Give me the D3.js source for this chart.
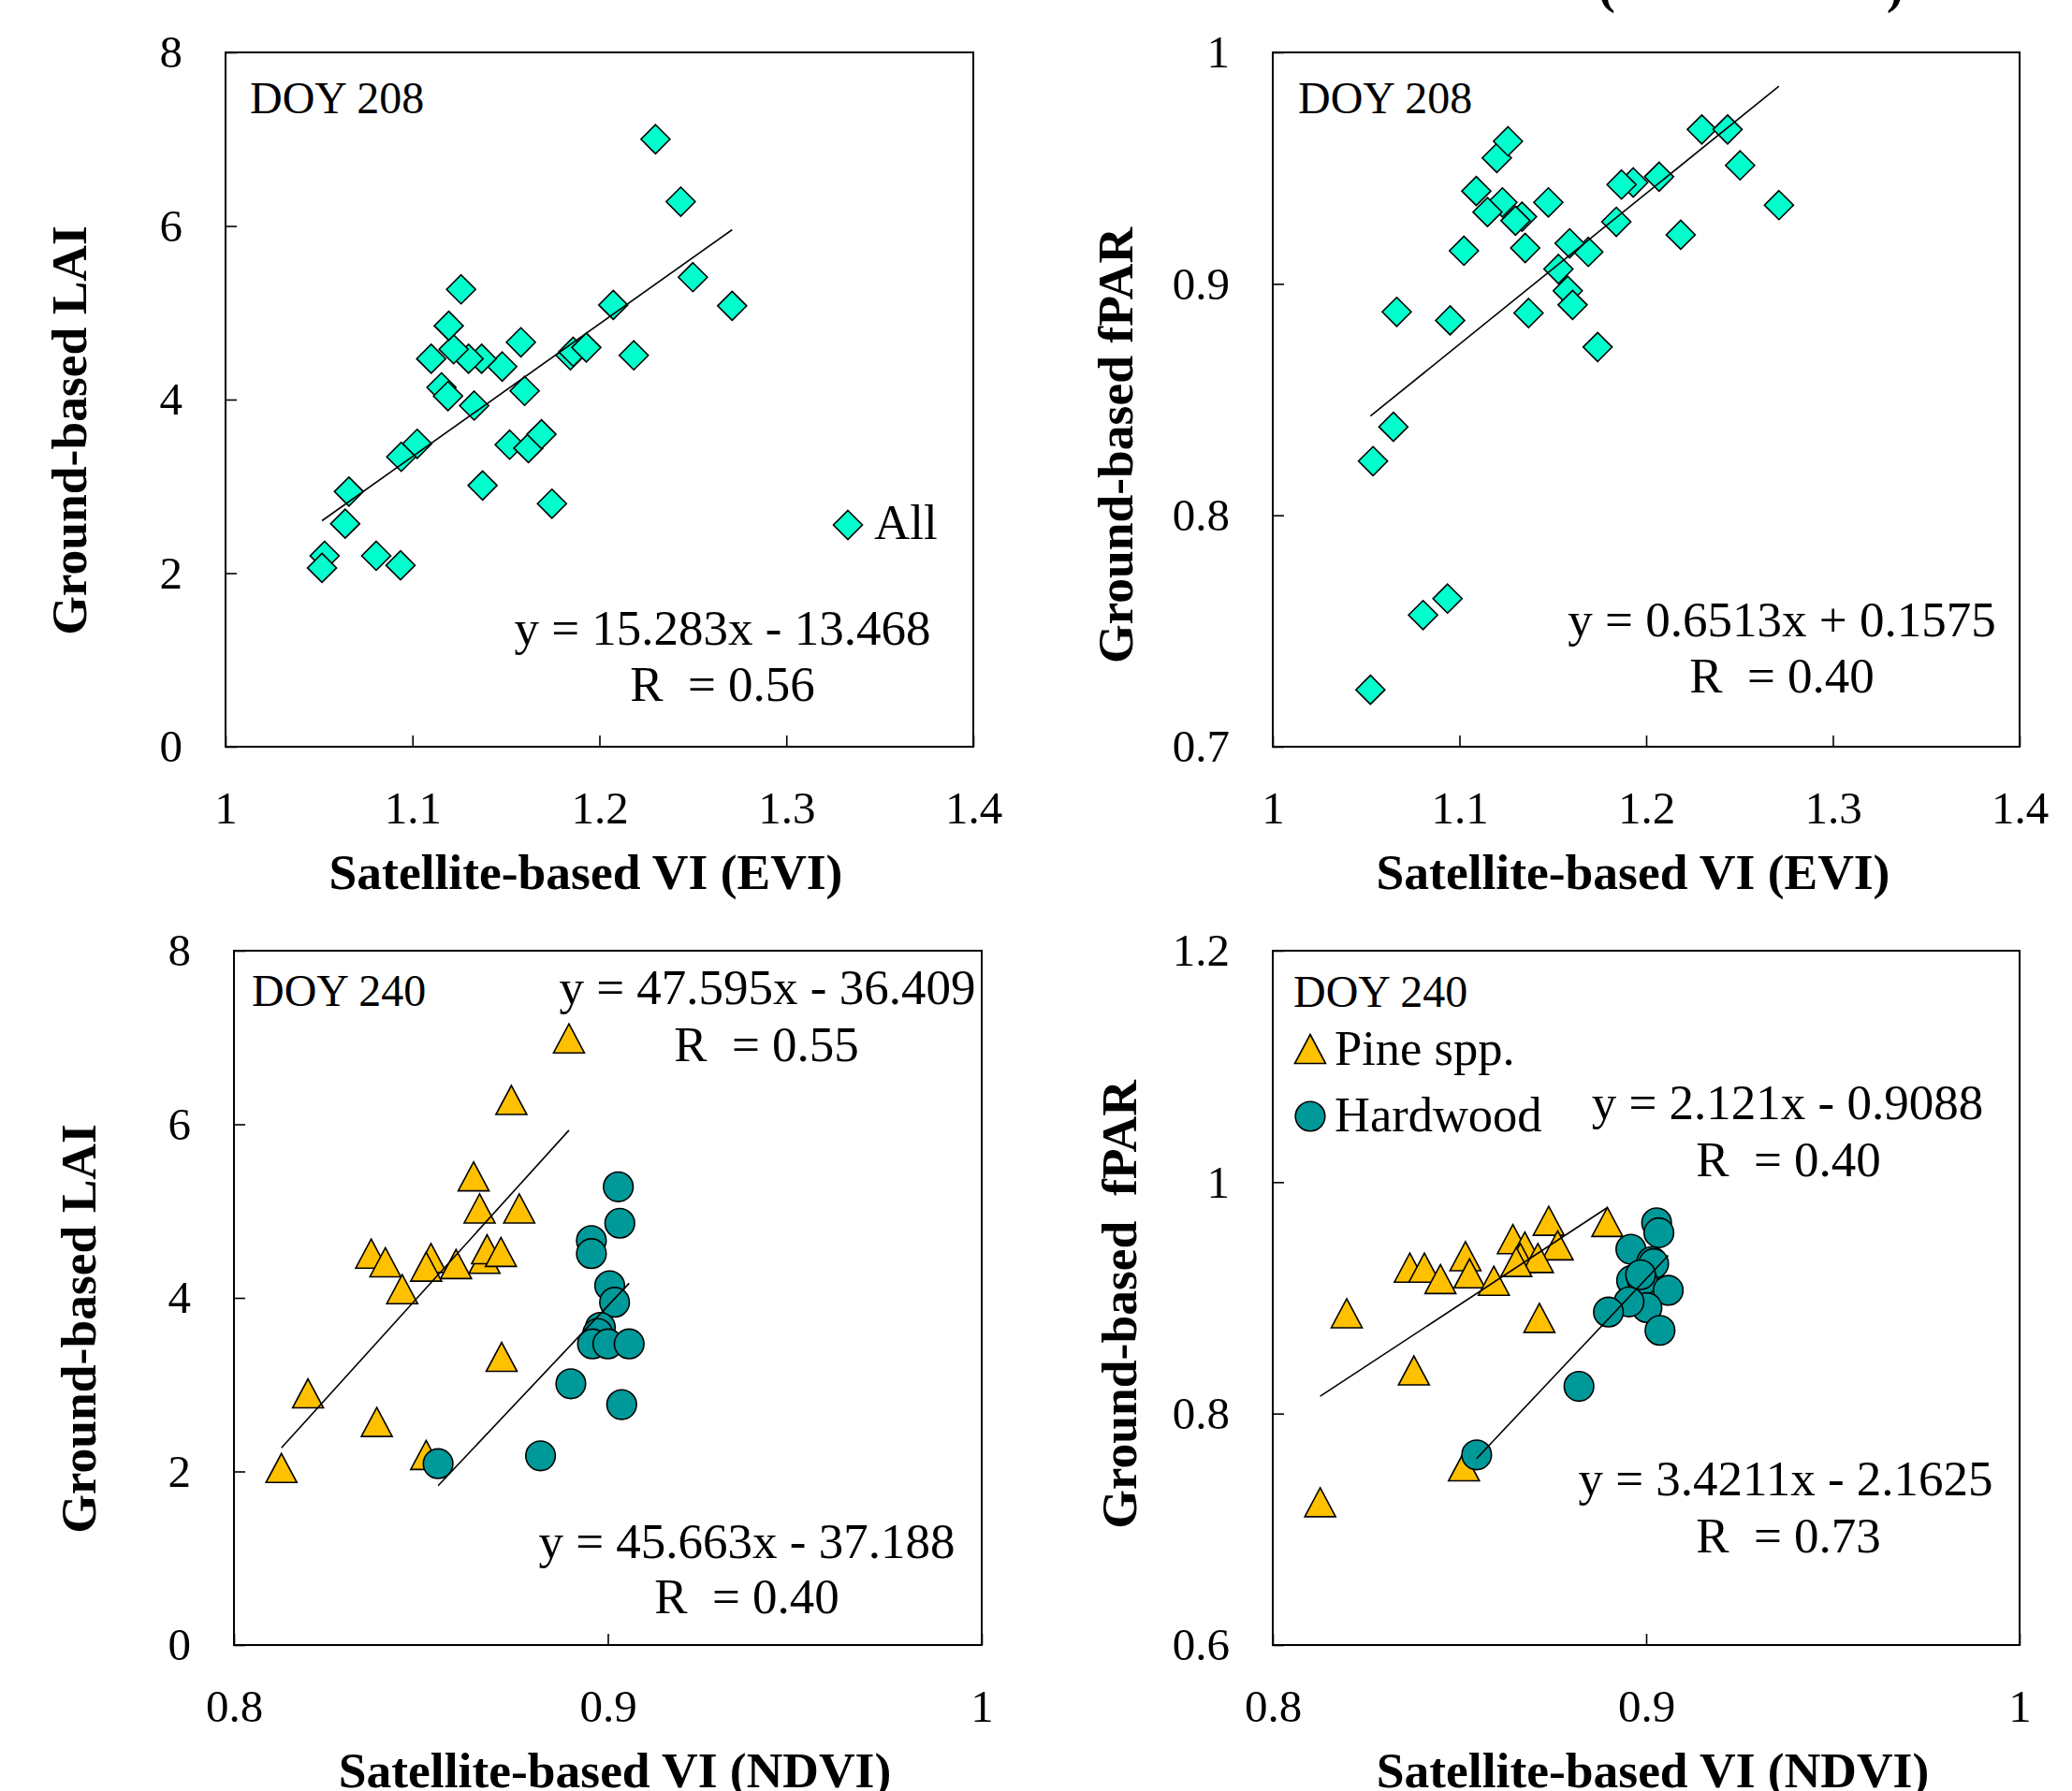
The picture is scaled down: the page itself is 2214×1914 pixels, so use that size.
<!DOCTYPE html>
<html>
<head>
<meta charset="utf-8">
<script src="https://cdn.jsdelivr.net/npm/d3@7"></script>
<style>
  body { margin: 0; background: #fff; }
  text { font-family: "Liberation Serif", "Times New Roman", serif; fill: #000; }
</style>
</head>
<body>
<div id="chart"></div>
<script>
// ---- data ----
// DOY 208, EVI vs LAI (all sites)
const eviLaiX = [1.230, 1.2435, 1.250, 1.271, 1.2074, 1.2184, 1.1845, 1.186, 1.193, 1.158, 1.160, 1.148,
    1.137, 1.130, 1.122, 1.1194, 1.126, 1.110, 1.1155, 1.119, 1.133, 1.152, 1.162, 1.169, 1.1375, 1.1746,
    1.1025, 1.094, 1.066, 1.064, 1.053, 1.0516, 1.0806, 1.0936];
const eviLaiY = [7.00, 6.28, 5.41, 5.08, 5.09, 4.51, 4.51, 4.55, 4.60, 4.66, 4.10, 4.38,
    4.47, 4.47, 4.58, 4.85, 5.27, 4.47, 4.14, 4.04, 3.93, 3.48, 3.44, 3.60, 3.01, 2.80,
    3.49, 3.34, 2.94, 2.57, 2.20, 2.06, 2.20, 2.09];

// DOY 208, EVI vs fPAR (all sites)
const eviFparX = [1.2298, 1.2436, 1.2503, 1.2711, 1.2069, 1.1931, 1.1868, 1.184, 1.2185, 1.174, 1.169,
    1.159, 1.153, 1.158, 1.1606, 1.1476, 1.1352, 1.137, 1.1335, 1.130, 1.123, 1.115, 1.109, 1.120, 1.126,
    1.1024, 1.095, 1.0664, 1.0646, 1.0537, 1.0936, 1.0805, 1.0523];
const eviFparY = [0.9667, 0.9667, 0.9512, 0.934, 0.9463, 0.9438, 0.9429, 0.9268, 0.9212, 0.8727, 0.9138,
    0.9175, 0.9064, 0.897, 0.8909, 0.9352, 0.9155, 0.8874, 0.929, 0.9273, 0.9352, 0.931, 0.9401, 0.9544, 0.9616,
    0.9143, 0.8842, 0.8879, 0.8382, 0.8234, 0.764, 0.7569, 0.7246];

// DOY 240, NDVI vs LAI
const pineLaiX = [0.8896, 0.8742, 0.8641, 0.8657, 0.8763, 0.8367, 0.8405, 0.8527, 0.8514, 0.8594, 0.867,
    0.8677, 0.8714, 0.845, 0.8716, 0.8198, 0.8382, 0.8514, 0.8127];
const pineLaiY = [6.99, 6.28, 5.40, 5.03, 5.03, 4.51, 4.41, 4.46, 4.36, 4.39, 4.45,
    4.56, 4.53, 4.10, 3.32, 2.90, 2.57, 2.19, 2.04];
const hardLaiX = [0.9028, 0.9032, 0.8956, 0.8956, 0.9005, 0.9018, 0.898, 0.8973, 0.8959, 0.9, 0.9057,
    0.8901, 0.9037, 0.882, 0.8546];
const hardLaiY = [5.28, 4.86, 4.66, 4.51, 4.14, 3.95, 3.66, 3.59, 3.47, 3.47, 3.47,
    3.01, 2.77, 2.18, 2.09];

// DOY 240, NDVI vs fPAR
const pineFparX = [0.8896, 0.8739, 0.8643, 0.8675, 0.8763, 0.8516, 0.8367, 0.8406, 0.8449, 0.8527, 0.8592,
    0.8663, 0.871, 0.8652, 0.8198, 0.8714, 0.8378, 0.8512, 0.8127];
const pineFparY = [0.9656, 0.9666, 0.9508, 0.9444, 0.9454, 0.936, 0.9261, 0.9261, 0.9163, 0.9212, 0.9148,
    0.9345, 0.9345, 0.931, 0.8867, 0.8827, 0.8373, 0.7544, 0.7234];
const hardFparX = [0.9028, 0.9034, 0.8959, 0.9015, 0.902, 0.8961, 0.899, 0.9059, 0.9002, 0.8954, 0.8899,
    0.9037, 0.882, 0.8546, 0.8985];
const hardFparY = [0.9649, 0.9563, 0.942, 0.9313, 0.9296, 0.915, 0.9148, 0.9065, 0.8916, 0.8965, 0.8877,
    0.8719, 0.8235, 0.7643, 0.9200];

// regression fits printed on the figure [slope, intercept]
const fitEviLai = [15.283, -13.468];
const fitEviFpar = [0.6513, 0.1575];
const fitPineLai = [47.595, -36.409];
const fitHardLai = [45.663, -37.188];
const fitPineFpar = [2.121, -0.9088];
const fitHardFpar = [3.4211, -2.1625];

// tick values
const eviTicks = [1, 1.1, 1.2, 1.3, 1.4];
const ndviTicks = [0.8, 0.9, 1];
const laiTicks = [0, 2, 4, 6, 8];
const fpar208Ticks = [0.7, 0.8, 0.9, 1];
const fpar240Ticks = [0.6, 0.8, 1, 1.2];

const COL_ALL = '#00ffcc';
const COL_PINE = '#ffc000';
const COL_HARD = '#009999';

const width = 2214;
const height = 1914;

const svg = d3.select('#chart')
    .append('svg')
    .attr('width', width)
    .attr('height', height)
    .style('display', 'block');

svg.append('rect')
    .attr('width', width)
    .attr('height', height)
    .attr('fill', '#fff');

// marker shapes
const diamond = r => `M0,${-r}L${r},0L0,${r}L${-r},0Z`;
const triangle = (w, h) => `M0,${-h / 2}L${w / 2},${h / 2}L${-w / 2},${h / 2}Z`;

function marker(g, type, color, px, py) {
    if (type === 'circle') {
        return g.append('circle')
            .attr('cx', px).attr('cy', py).attr('r', 15.8)
            .attr('fill', color).attr('stroke', '#000').attr('stroke-width', 1.6);
    }
    return g.append('path')
        .attr('d', type === 'diamond' ? diamond(15.5) : triangle(33, 31))
        .attr('transform', `translate(${px},${py})`)
        .attr('fill', color).attr('stroke', '#000').attr('stroke-width', 1.6);
}

function drawPanel(p) {
    const g = svg.append('g').attr('transform', `translate(${p.left},${p.top})`);
    const w = p.w, h = p.h;

    const x = d3.scaleLinear().domain(p.xDomain).range([0, w]);
    const y = d3.scaleLinear().domain(p.yDomain).range([h, 0]);

    // X axis (ticks point inward)
    g.append('g')
        .attr('transform', `translate(0,${h})`)
        .call(d3.axisBottom(x).tickValues(p.xTicks).tickFormat(d => d)
            .tickSizeInner(-12).tickSizeOuter(0).tickPadding(47))
        .call(a => a.select('.domain').remove())
        .attr('font-size', 49)
        .attr('font-family', null)
        .call(a => a.selectAll('line').attr('stroke', '#000').attr('stroke-width', 1.6));

    // Y axis
    g.append('g')
        .call(d3.axisLeft(y).tickValues(p.yTicks).tickFormat(d => d)
            .tickSizeInner(-12).tickSizeOuter(0).tickPadding(46))
        .call(a => a.select('.domain').remove())
        .attr('font-size', 49)
        .attr('font-family', null)
        .call(a => a.selectAll('line').attr('stroke', '#000').attr('stroke-width', 1.6));

    // plot frame
    g.append('rect')
        .attr('width', w)
        .attr('height', h)
        .attr('fill', 'none')
        .attr('stroke', '#000')
        .attr('stroke-width', 2);

    // points
    p.series.forEach(s => {
        s.xs.forEach((v, i) => marker(g, s.type, s.color, x(v), y(s.ys[i])));
    });

    // trend lines over the range of each series
    const line = d3.line().x(d => x(d[0])).y(d => y(d[1]));
    p.series.forEach(s => {
        const ext = d3.extent(s.xs);
        const pts = ext.map(v => [v, s.fit[0] * v + s.fit[1]]);
        g.append('path')
            .datum(pts)
            .attr('d', line)
            .attr('fill', 'none')
            .attr('stroke', '#000')
            .attr('stroke-width', 1.6);
    });

    // panel texts (absolute page coords)
    p.texts.forEach(t => {
        svg.append('text')
            .attr('x', t.x)
            .attr('y', t.y)
            .attr('font-size', t.size || 53)
            .attr('text-anchor', t.anchor || 'start')
            .style('white-space', 'pre')
            .text(t.text);
    });

    // legend markers
    (p.legend || []).forEach(l => marker(svg, l.type, l.color, l.x, l.y));

    // axis titles
    svg.append('text')
        .attr('x', p.xTitle[1])
        .attr('y', p.top + h + 152)
        .attr('font-size', 53.5)
        .attr('font-weight', 'bold')
        .attr('text-anchor', 'middle')
        .style('white-space', 'pre')
        .text(p.xTitle[0]);

    svg.append('text')
        .attr('transform', `translate(${p.yTitle[1]},${p.yTitle[2]}) rotate(-90)`)
        .attr('font-size', 53.5)
        .attr('font-weight', 'bold')
        .attr('text-anchor', 'middle')
        .style('white-space', 'pre')
        .text(p.yTitle[0]);
}

// Top left: LAI vs EVI
drawPanel({
    left: 241, top: 56, w: 799, h: 742,
    xDomain: [1, 1.4], yDomain: [0, 8], xTicks: eviTicks, yTicks: laiTicks,
    series: [{ xs: eviLaiX, ys: eviLaiY, type: 'diamond', color: COL_ALL, fit: fitEviLai }],
    texts: [
        { text: 'DOY 208', x: 267, y: 121, size: 48 },
        { text: 'y = 15.283x - 13.468', x: 772, y: 689, anchor: 'middle' },
        { text: 'R  = 0.56', x: 772, y: 749, anchor: 'middle' },
        { text: 'All', x: 934, y: 576 }
    ],
    legend: [{ type: 'diamond', color: COL_ALL, x: 906, y: 561 }],
    xTitle: ['Satellite-based VI (EVI)', 626],
    yTitle: ['Ground-based LAI', 92, 460]
});

// Top right: fPAR vs EVI
drawPanel({
    left: 1360, top: 56, w: 798, h: 742,
    xDomain: [1, 1.4], yDomain: [0.7, 1], xTicks: eviTicks, yTicks: fpar208Ticks,
    series: [{ xs: eviFparX, ys: eviFparY, type: 'diamond', color: COL_ALL, fit: fitEviFpar }],
    texts: [
        { text: 'DOY 208', x: 1387, y: 121, size: 48 },
        { text: 'y = 0.6513x + 0.1575', x: 1904, y: 680, anchor: 'middle' },
        { text: 'R  = 0.40', x: 1904, y: 740, anchor: 'middle' }
    ],
    xTitle: ['Satellite-based VI (EVI)', 1745],
    yTitle: ['Ground-based fPAR', 1210, 476]
});

// Bottom left: LAI vs NDVI
drawPanel({
    left: 250, top: 1016, w: 799, h: 742,
    xDomain: [0.8, 1], yDomain: [0, 8], xTicks: ndviTicks, yTicks: laiTicks,
    series: [
        { xs: pineLaiX, ys: pineLaiY, type: 'triangle', color: COL_PINE, fit: fitPineLai },
        { xs: hardLaiX, ys: hardLaiY, type: 'circle', color: COL_HARD, fit: fitHardLai }
    ],
    texts: [
        { text: 'DOY 240', x: 269, y: 1075, size: 48 },
        { text: 'y = 47.595x - 36.409', x: 820, y: 1073, anchor: 'middle' },
        { text: 'R  = 0.55', x: 819, y: 1134, anchor: 'middle' },
        { text: 'y = 45.663x - 37.188', x: 798, y: 1665, anchor: 'middle' },
        { text: 'R  = 0.40', x: 798, y: 1724, anchor: 'middle' }
    ],
    xTitle: ['Satellite-based VI (NDVI)', 657],
    yTitle: ['Ground-based LAI', 102, 1420]
});

// Bottom right: fPAR vs NDVI
drawPanel({
    left: 1360, top: 1016, w: 798, h: 742,
    xDomain: [0.8, 1], yDomain: [0.6, 1.2], xTicks: ndviTicks, yTicks: fpar240Ticks,
    series: [
        { xs: pineFparX, ys: pineFparY, type: 'triangle', color: COL_PINE, fit: fitPineFpar },
        { xs: hardFparX, ys: hardFparY, type: 'circle', color: COL_HARD, fit: fitHardFpar }
    ],
    texts: [
        { text: 'DOY 240', x: 1382, y: 1076, size: 48 },
        { text: 'Pine spp.', x: 1426, y: 1138, size: 52.5 },
        { text: 'Hardwood', x: 1426, y: 1209, size: 52.5 },
        { text: 'y = 2.121x - 0.9088', x: 1910, y: 1196, anchor: 'middle' },
        { text: 'R  = 0.40', x: 1911, y: 1257, anchor: 'middle' },
        { text: 'y = 3.4211x - 2.1625', x: 1908, y: 1598, anchor: 'middle' },
        { text: 'R  = 0.73', x: 1911, y: 1659, anchor: 'middle' }
    ],
    legend: [
        { type: 'triangle', color: COL_PINE, x: 1400, y: 1121 },
        { type: 'circle', color: COL_HARD, x: 1400, y: 1193 }
    ],
    xTitle: ['Satellite-based VI (NDVI)', 1766],
    yTitle: ['Ground-based  fPAR', 1214, 1394]
});

// cropped title from the panel above, only the parenthesis tails show
svg.append('text').attr('x', 1708).attr('y', 3).attr('font-size', 53.5).attr('font-weight', 'bold').text('(');
svg.append('text').attr('x', 2016).attr('y', 3).attr('font-size', 53.5).attr('font-weight', 'bold').text(')');
</script>
</body>
</html>
